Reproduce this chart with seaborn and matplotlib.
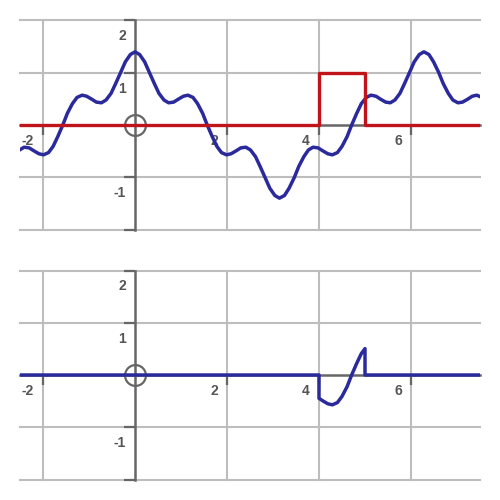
import matplotlib
matplotlib.use("Agg")
import matplotlib.pyplot as plt
import seaborn as sns

# blue wave
wave_x = [-2.51, -2.41, -2.30, -2.20, -2.09, -1.99, -1.88, -1.78, -1.68, -1.57,
          -1.47, -1.36, -1.26, -1.15, -1.05, -0.94, -0.84, -0.73, -0.63, -0.52,
          -0.42, -0.31, -0.21, -0.10, 0.00, 0.10, 0.21, 0.31, 0.42, 0.52,
          0.63, 0.73, 0.84, 0.94, 1.05, 1.15, 1.26, 1.36, 1.47, 1.57,
          1.68, 1.78, 1.88, 1.99, 2.09, 2.20, 2.30, 2.41, 2.51, 2.62,
          2.72, 2.83, 2.93, 3.04, 3.14, 3.25, 3.35, 3.46, 3.56, 3.67,
          3.77, 3.87, 3.98, 4.08, 4.19, 4.29, 4.40, 4.50, 4.61, 4.71,
          4.82, 4.92, 5.03, 5.13, 5.24, 5.34, 5.45, 5.55, 5.65, 5.76,
          5.86, 5.97, 6.07, 6.18, 6.28, 6.39, 6.49, 6.60, 6.70, 6.81,
          6.91, 7.02, 7.12, 7.23, 7.33, 7.43, 7.54]
wave_y = [-0.478, -0.425, -0.438, -0.493, -0.55, -0.571, -0.528, -0.409, -0.224, 0.0,
          0.224, 0.409, 0.528, 0.571, 0.55, 0.493, 0.438, 0.425, 0.478, 0.606,
          0.794, 1.010, 1.209, 1.349, 1.4, 1.349, 1.209, 1.010, 0.794, 0.606,
          0.478, 0.425, 0.438, 0.493, 0.55, 0.571, 0.528, 0.409, 0.224, 0.0,
          -0.224, -0.409, -0.528, -0.571, -0.55, -0.493, -0.438, -0.425, -0.478, -0.606,
          -0.794, -1.010, -1.209, -1.349, -1.4, -1.349, -1.209, -1.010, -0.794, -0.606,
          -0.478, -0.425, -0.438, -0.493, -0.55, -0.571, -0.528, -0.409, -0.224, 0.0,
          0.224, 0.409, 0.528, 0.571, 0.55, 0.493, 0.438, 0.425, 0.478, 0.606,
          0.794, 1.010, 1.209, 1.349, 1.4, 1.349, 1.209, 1.010, 0.794, 0.606,
          0.478, 0.425, 0.438, 0.493, 0.55, 0.571, 0.528]

# red window
win_x = [-2.5, 4.0, 4.0, 5.0, 5.0, 7.5]
win_y = [0, 0, 1, 1, 0, 0]

# product shown in the bottom panel
prod_x = [-2.5, 4.0, 4.0, 4.08, 4.19, 4.29, 4.40, 4.50, 4.61, 4.71,
          4.82, 4.92, 5.0, 5.0, 7.5]
prod_y = [0, 0, -0.447, -0.493, -0.55, -0.571, -0.528, -0.409, -0.224, 0.0,
          0.224, 0.409, 0.505, 0, 0]

x_ticks = [-2, 2, 4, 6]
y_ticks = [-2, -1, 1, 2]
x_labels = ["-2", "2", "4", "6"]
y_labels = ["-1", "1", "2"]
y_label_pos = [-1, 1, 2]

BLUE = "#2a2a9c"
RED = "#c0141a"
GRID = "#bdbdbd"
AXIS = "#666666"


def setup(ax):
    ax.set_xlim(-2.5, 7.5)
    ax.set_ylim(-2, 2)
    ax.set_axisbelow(True)
    for s in ["top", "right"]:
        ax.spines[s].set_visible(False)
    ax.spines["left"].set_position(("data", 0))
    ax.spines["bottom"].set_position(("data", 0))
    for s in ["left", "bottom"]:
        ax.spines[s].set_color(AXIS)
        ax.spines[s].set_linewidth(1.8)
    ax.set_xticks(x_ticks)
    ax.set_yticks(y_ticks)
    ax.set_xticklabels([])
    ax.set_yticklabels([])
    ax.tick_params(axis="x", direction="out", length=7, width=1.6, color=AXIS)
    ax.tick_params(axis="y", direction="out", length=8, width=1.6, color=AXIS)
    ax.grid(True, color=GRID, linewidth=1.5)
    for gl in ax.get_xgridlines() + ax.get_ygridlines():
        gl.set_clip_on(False)
    for v, t in zip(x_ticks, x_labels):
        ax.annotate(t, (v, 0), xytext=(-9, -16), textcoords="offset pixels",
                    ha="right", va="center", fontsize=10, fontweight="bold",
                    color="#555555", family="Liberation Sans", zorder=2.6)
    for v, t in zip(y_label_pos, y_labels):
        ax.annotate(t, (0, v), xytext=(-9, -16), textcoords="offset pixels",
                    ha="right", va="center", fontsize=10, fontweight="bold",
                    color="#555555", family="Liberation Sans", zorder=2.6)
    ax.plot([0], [0], marker="o", ms=15, mfc="none", mec=AXIS, mew=1.6,
            zorder=2.7, clip_on=False)


fig = plt.figure(figsize=(5, 5), dpi=100)
ax1 = fig.add_axes([0.04, 0.541, 0.92, 0.418])
ax2 = fig.add_axes([0.04, 0.041, 0.92, 0.418])
setup(ax1)
setup(ax2)

sns.lineplot(x=wave_x, y=wave_y, sort=False, estimator=None, color=BLUE,
             linewidth=2.5, ax=ax1, zorder=3)
sns.lineplot(x=win_x, y=win_y, sort=False, estimator=None, color=RED,
             linewidth=2.4, ax=ax1, zorder=4)
sns.lineplot(x=prod_x, y=prod_y, sort=False, estimator=None, color=BLUE,
             linewidth=2.5, ax=ax2, zorder=3)

for ax in (ax1, ax2):
    ax.set_xlabel("")
    ax.set_ylabel("")
    ax.set_xlim(-2.5, 7.5)
    ax.set_ylim(-2, 2)

fig.savefig("out.png", dpi=100)
